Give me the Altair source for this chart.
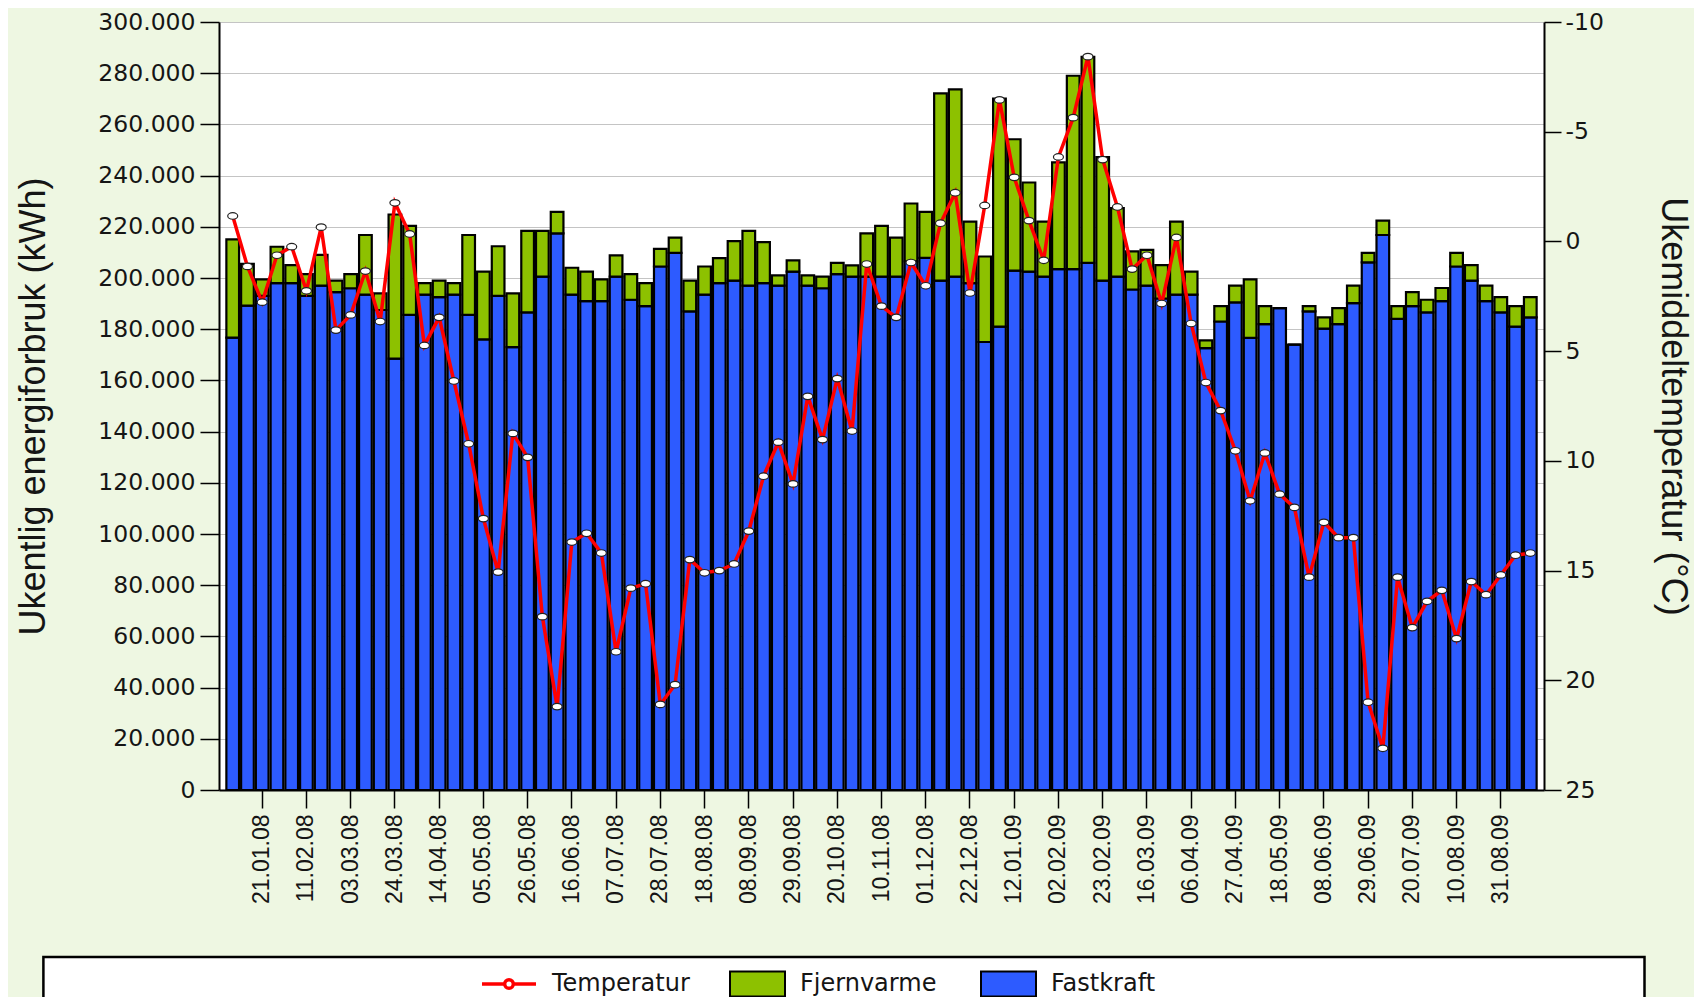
import altair as alt
import pandas as pd

# ---------------- data ----------------
N_WEEKS = 89
WEEKS = pd.date_range("2008-01-07", periods=N_WEEKS, freq="7D").strftime("%d.%m.%y").tolist()

TICK_LABELS = ["21.01.08", "11.02.08", "03.03.08", "24.03.08", "14.04.08", "05.05.08",
               "26.05.08", "16.06.08", "07.07.08", "28.07.08", "18.08.08", "08.09.08",
               "29.09.08", "20.10.08", "10.11.08", "01.12.08", "22.12.08", "12.01.09",
               "02.02.09", "23.02.09", "16.03.09", "06.04.09", "27.04.09", "18.05.09",
               "08.06.09", "29.06.09", "20.07.09", "10.08.09", "31.08.09"]

# thousand kWh per week
FASTKRAFT = [176.7, 189.2, 193.0, 198.0, 198.0, 193.0, 197.0, 194.5, 196.0, 193.5,
             187.5, 168.5, 185.6, 193.5, 192.5, 193.5, 185.6, 176.0, 193.0, 173.0,
             186.6, 200.5, 217.4, 193.5, 191.0, 191.0, 200.5, 191.5, 189.0, 204.5,
             209.8, 187.0, 193.5, 198.0, 199.0, 197.0, 198.0, 197.0, 202.5, 197.0,
             196.0, 201.5, 200.5, 200.5, 200.5, 200.5, 206.5, 207.9, 199.0, 200.5,
             198.0, 175.0, 181.0, 202.9, 202.5, 200.5, 203.5, 203.5, 205.9, 199.0,
             200.5, 195.5, 197.0, 192.0, 193.5, 193.5, 172.6, 183.0, 190.5, 176.6,
             182.0, 188.2, 174.0, 187.0, 180.2, 182.0, 190.2, 206.1, 216.8, 184.0,
             189.0, 186.6, 191.0, 204.5, 199.0, 191.0, 186.6, 181.0, 184.6]

FJERNVARME = [38.4, 16.3, 6.5, 14.2, 7.0, 8.5, 12.0, 4.5, 5.5, 23.3,
              6.5, 56.3, 34.8, 4.5, 6.5, 4.5, 31.2, 26.5, 19.4, 21.0,
              31.8, 17.9, 8.4, 10.5, 11.5, 8.5, 8.3, 10.0, 9.0, 6.9,
              6.0, 12.0, 11.0, 9.8, 15.4, 21.4, 16.0, 4.0, 4.4, 4.0,
              4.5, 4.4, 4.4, 16.9, 19.9, 15.3, 22.6, 17.9, 73.1, 73.2,
              24.0, 33.4, 89.1, 51.3, 34.8, 21.5, 41.7, 75.5, 80.5, 48.2,
              26.8, 14.9, 14.0, 13.0, 28.5, 9.0, 3.0, 6.0, 6.5, 22.9,
              7.0, 0.0, 0.0, 2.0, 4.4, 6.2, 6.8, 3.7, 5.6, 5.0,
              5.5, 4.9, 5.1, 5.3, 6.0, 6.0, 5.9, 8.0, 7.9]

TEMPERATUR = [-1.16, 1.14, 2.77, 0.63, 0.24, 2.25, -0.65, 4.04, 3.35, 1.35,
              3.65, -1.76, -0.34, 4.74, 3.46, 6.36, 9.22, 12.63, 15.07, 8.75,
              9.84, 17.1, 21.2, 13.7, 13.3, 14.2, 18.7, 15.8, 15.6, 21.1,
              20.2, 14.5, 15.1, 15.0, 14.7, 13.2, 10.7, 9.15, 11.05, 7.06,
              9.03, 6.25, 8.64, 1.03, 2.95, 3.46, 0.96, 2.02, -0.83, -2.22,
              2.35, -1.64, -6.45, -2.92, -0.95, 0.86, -3.85, -5.64, -8.42, -3.73,
              -1.57, 1.26, 0.63, 2.83, -0.18, 3.74, 6.43, 7.71, 9.54, 11.82,
              9.64, 11.52, 12.12, 15.3, 12.8, 13.5, 13.5, 21.0, 23.1, 15.3,
              17.6, 16.4, 15.9, 18.1, 15.5, 16.1, 15.2, 14.3, 14.2]

SERIES = ["Fjernvarme", "Fastkraft"]
Y_TICKS = list(range(0, 300001, 20000))
T_TICKS = list(range(-10, 26, 5))

# ---------------- styling ----------------
BLUE = "#2D5BFF"
GREEN = "#8DC100"
RED = "#FF0000"
BG = "#EEF7E2"
TXT = "#151515"

W, H = 1325, 768

bars_df = pd.DataFrame({
    "uke": WEEKS * 2,
    "serie": ["Fastkraft"] * N_WEEKS + ["Fjernvarme"] * N_WEEKS,
    "kwh": [v * 1000 for v in FASTKRAFT] + [v * 1000 for v in FJERNVARME],
    "rekkefolge": [0] * N_WEEKS + [1] * N_WEEKS,
})
temp_df = pd.DataFrame({"uke": WEEKS, "temp": TEMPERATUR, "navn": ["Temperatur"] * N_WEEKS})

x_enc = alt.X(
    "uke:N",
    scale=alt.Scale(domain=WEEKS, paddingInner=0.14, paddingOuter=0.5),
    axis=alt.Axis(values=TICK_LABELS, labelAngle=-90, labelFont="Liberation Sans",
                  labelFontSize=23, labelColor=TXT, tickSize=18, tickColor="black",
                  tickWidth=1.5, domainColor="black", domainWidth=2, labelPadding=6,
                  labelOverlap=False, grid=False),
    title=None,
)

box = alt.Chart(pd.DataFrame({"a": [0]})).mark_rect(
    fill="white", stroke="black", strokeWidth=2.5
).encode(
    x=alt.value(-175.6), x2=alt.value(1425.5), y=alt.value(935), y2=alt.value(1000)
)

bars = alt.Chart(bars_df).mark_bar(stroke="black", strokeWidth=2.2).encode(
    x=x_enc,
    y=alt.Y(
        "kwh:Q", stack="zero",
        scale=alt.Scale(domain=[0, 300000], nice=False),
        axis=alt.Axis(values=Y_TICKS,
                      labelExpr="replace(format(datum.value, ','), ',', '.')",
                      grid=True, gridColor="#C4C4C4", gridWidth=1.2,
                      tickSize=19, tickColor="black", tickWidth=1.5,
                      domainColor="black", domainWidth=2,
                      labelFont="DejaVu Sans", labelFontSize=23.5, labelColor=TXT,
                      labelPadding=5,
                      titleFont="Liberation Sans", titleFontSize=36,
                      titleFontWeight="normal", titleColor=TXT,
                      titleX=-186, titleY=H / 2, titleAngle=-90,
                      titleBaseline="middle", titleAlign="center"),
        title="Ukentlig energiforbruk (kWh)",
    ),
    color=alt.Color(
        "serie:N",
        scale=alt.Scale(domain=SERIES, range=[GREEN, BLUE]),
        legend=alt.Legend(orient="none", legendX=510, legendY=933, direction="horizontal",
                          columns=2, title=None,
                          symbolType="M-1,-0.455L1,-0.455L1,0.455L-1,0.455Z",
                          symbolSize=3025, symbolStrokeColor="black", symbolStrokeWidth=2,
                          labelFont="DejaVu Sans", labelFontSize=24, labelColor=TXT,
                          labelOffset=14, columnPadding=40, padding=0, labelLimit=400),
    ),
    order=alt.Order("rekkefolge:Q", sort="ascending"),
)

t_axis = alt.Axis(orient="right", values=T_TICKS,
                  labelExpr="datum.value < 0 ? '-' + abs(datum.value) : '' + datum.value",
                  grid=False, tickSize=17, tickColor="black", tickWidth=1.5,
                  domainColor="black", domainWidth=2,
                  labelFont="DejaVu Sans", labelFontSize=23.5, labelColor=TXT,
                  labelPadding=4,
                  titleFont="Liberation Sans", titleFontSize=36,
                  titleFontWeight="normal", titleColor=TXT,
                  titleX=128, titleY=H / 2, titleAngle=90,
                  titleBaseline="middle", titleAlign="center")
t_scale = alt.Scale(domain=[-10, 25], reverse=True, nice=False, zero=False)

line = alt.Chart(temp_df).mark_line(strokeWidth=3.5).encode(
    x=x_enc,
    y=alt.Y("temp:Q", scale=t_scale, axis=t_axis, title="Ukemiddeltemperatur (°C)"),
    stroke=alt.Stroke(
        "navn:N",
        scale=alt.Scale(domain=["Temperatur"], range=[RED]),
        legend=alt.Legend(orient="none", legendX=261, legendY=933, title=None,
                          symbolType="M-1,0L-0.16,0M0.16,0L1,0M-0.16,0A0.16,0.16,0,1,1,0.16,0A0.16,0.16,0,1,1,-0.16,0Z",
                          symbolSize=2916, symbolStrokeWidth=3.5, symbolFillColor="white",
                          labelFont="DejaVu Sans", labelFontSize=24, labelColor=TXT,
                          labelOffset=14, padding=0, labelLimit=400),
    ),
)

pts = alt.Chart(temp_df).mark_point(
    shape="M-1.3,0A1.3,0.85,0,1,1,1.3,0A1.3,0.85,0,1,1,-1.3,0Z",
    size=59, fill="white", fillOpacity=1, opacity=1, stroke="#222222", strokeWidth=1.2,
).encode(
    x=x_enc,
    y=alt.Y("temp:Q", scale=t_scale, axis=t_axis, title="Ukemiddeltemperatur (°C)"),
)

temp_layer = alt.layer(line, pts)

chart = alt.layer(box, bars, temp_layer).resolve_scale(
    y="independent"
).properties(
    width=W, height=H,
    padding={"left": 211, "top": 14, "right": 150, "bottom": 207},
    autosize=alt.AutoSizeParams(type="none"),
    background=BG,
).configure_view(fill="white", strokeOpacity=0)

chart.save("out.html", embed_options={"renderer": "svg", "actions": False})
